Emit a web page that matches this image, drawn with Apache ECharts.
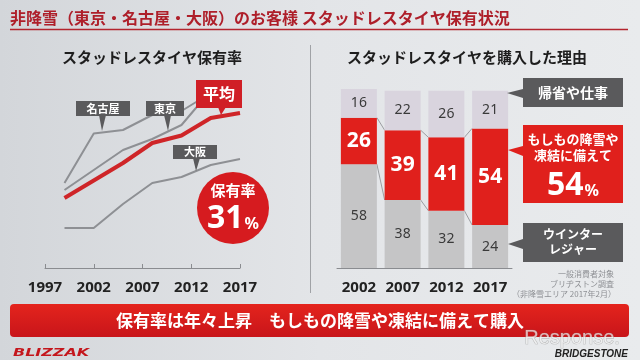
<!DOCTYPE html>
<html>
<head>
<meta charset="utf-8">
<script src="https://cdn.jsdelivr.net/npm/echarts@6/dist/echarts.min.js"></script>
<style>
html,body{margin:0;padding:0;width:640px;height:360px;overflow:hidden;}
#c{width:640px;height:360px;}
</style>
</head>
<body>
<div id="c"></div>
<script>
// ---- Data ----
const axisYears = ['1997','1998','1999','2000','2001','2002','2003','2004','2005','2006','2007','2008','2009','2010','2011','2012','2013','2014','2015','2016','2017'];
const lineYears = ['1999','2002','2005','2008','2011','2014','2017'];
const avgRate    = [14, 17.5, 21, 25, 26.5, 30, 31];
const tokyoRate  = [15.6, 19.6, 23.6, 25.8, 28.6, 35.5, 36];
const nagoyaRate = [17, 26.9, 27.6, 30.6, 31.4, 35, 36.5];
const osakaRate  = [8, 8, 12.8, 17, 18.2, 20.6, 21.8];

const barYears    = ['2002','2007','2012','2017'];
const leisure     = [58, 38, 32, 24];   // ウインターレジャー
const emergency   = [26, 39, 41, 54];   // もしもの降雪や凍結に備えて
const homecoming  = [16, 22, 26, 21];   // 帰省や仕事

// ---- Build ----
const JP = '"Noto Sans CJK JP", "Noto Sans", sans-serif';
const pairs = arr => lineYears.map((y, i) => [y, arr[i]]);
const BAR_W = 36;
const connData = [];
for (let i = 0; i < barYears.length - 1; i++) {
  connData.push([i, leisure[i], leisure[i+1], leisure[i] + emergency[i], leisure[i+1] + emergency[i+1]]);
}

const chart = echarts.init(document.getElementById('c'), null, {renderer: 'canvas'});

function box(x, y, w, h, fill) {
  return {type: 'rect', shape: {x: x, y: y, width: w, height: h}, style: {fill: fill}, z: 100};
}
function tri(pts, fill) {
  return {type: 'polygon', shape: {points: pts}, style: {fill: fill}, z: 100};
}
function txt(x, y, text, font, fill, align, extra) {
  return {type: 'text', x: x, y: y, z: 101,
    style: Object.assign({text: text, font: font, fill: fill, align: align || 'center', verticalAlign: 'middle'}, extra || {})};
}
const DARK = '#5a5a5c';

const graphics = [
  txt(10, 18, '非降雪（東京・名古屋・大阪）のお客様 スタッドレスタイヤ保有状況', 'bold 16px ' + JP, '#ae1f2a', 'left'),
  {type: 'line', shape: {x1: 10, y1: 29.5, x2: 628, y2: 29.5}, style: {stroke: '#b3242e', lineWidth: 1.5}, z: 50},
  {type: 'line', shape: {x1: 310.5, y1: 45, x2: 310.5, y2: 293}, style: {stroke: '#a0a2a6', lineWidth: 1}, z: 50},
  txt(152, 57, 'スタッドレスタイヤ保有率', 'bold 15px ' + JP, '#1e1e1e'),
  txt(467, 57, 'スタッドレスタイヤを購入した理由', 'bold 15px ' + JP, '#1e1e1e'),

  box(76, 101, 54, 15, DARK), tri([[99,115],[106,115],[102,131]], DARK),
  txt(103, 108.5, '名古屋', 'bold 11px ' + JP, '#ffffff'),
  box(146, 101, 38, 15, DARK), tri([[164,115],[171,115],[168,131]], DARK),
  txt(165, 108.5, '東京', 'bold 11px ' + JP, '#ffffff'),
  box(173, 145, 44, 14, DARK), tri([[193,158],[200,158],[196,171]], DARK),
  txt(195, 152, '大阪', 'bold 11px ' + JP, '#ffffff'),
  box(196, 80, 46, 28, '#d01f26'), tri([[218,107],[226,107],[221,115]], '#d01f26'),
  txt(219, 94, '平均', 'bold 16px ' + JP, '#ffffff'),
  {type: 'circle', shape: {cx: 233, cy: 208, r: 36}, style: {fill: '#d61b1f'}, z: 100},
  txt(233, 190, '保有率', 'bold 15px ' + JP, '#ffffff'),
  txt(233, 219, '{a|31}{b|%}', '', '#ffffff', 'center', {rich: {
    a: {font: 'bold 32px "Noto Sans", sans-serif', fill: '#ffffff'},
    b: {font: 'bold 16px "Noto Sans", sans-serif', fill: '#ffffff', padding: [10, 0, 0, 1]}}}),

  box(523, 78, 100, 29, DARK), tri([[523,89],[523,98],[507,93]], DARK),
  txt(573, 92.5, '帰省や仕事', 'bold 14px ' + JP, '#ffffff'),
  box(523, 125, 100, 78, '#e0201c'), tri([[523,146],[523,156],[508,150]], '#e0201c'),
  txt(573, 139.5, 'もしもの降雪や', 'bold 13px ' + JP, '#ffffff'),
  txt(573, 155.5, '凍結に備えて', 'bold 13px ' + JP, '#ffffff'),
  txt(573, 186, '{a|54}{b|%}', '', '#ffffff', 'center', {rich: {
    a: {font: 'bold 32px "Noto Sans", sans-serif', fill: '#ffffff'},
    b: {font: 'bold 16px "Noto Sans", sans-serif', fill: '#ffffff', padding: [10, 0, 0, 1]}}}),
  box(523, 223, 100, 39, DARK), tri([[523,239],[523,249],[508,244]], DARK),
  txt(573, 234.5, 'ウインター', 'bold 12px ' + JP, '#ffffff'),
  txt(573, 249, 'レジャー', 'bold 12px ' + JP, '#ffffff'),

  txt(614, 274, '一般消費者対象', '8px ' + JP, '#8e9094', 'right'),
  txt(614, 284, 'ブリヂストン調査', '8px ' + JP, '#8e9094', 'right'),
  txt(616, 294, '（非降雪エリア 2017年2月）', '8px ' + JP, '#8e9094', 'right'),

  {type: 'rect', shape: {x: 10, y: 304, width: 619, height: 33, r: 4}, z: 100,
    style: {fill: new echarts.graphic.LinearGradient(0, 0, 0, 1, [{offset: 0, color: '#e4241d'}, {offset: 1, color: '#c8151a'}])}},
  txt(320, 320.5, '保有率は年々上昇　もしもの降雪や凍結に備えて購入', 'bold 17px ' + JP, '#ffffff'),

  {type: 'text', x: 13, y: 353, z: 101, scaleX: 1.45,
    style: {text: 'BLIZZAK', font: 'italic 900 11px "DejaVu Sans", sans-serif', fill: '#c4161c', align: 'left', verticalAlign: 'middle'}},
  txt(628, 354, 'BRIDGESTONE', 'italic bold 10px "Liberation Sans", sans-serif', '#222222', 'right'),
  txt(572, 338, 'Response.', '20px "Liberation Sans", sans-serif', 'rgba(245,245,245,0.7)', 'center',
    {stroke: 'rgba(130,130,130,0.55)', lineWidth: 0.7})
];

const option = {
  animation: false,
  backgroundColor: new echarts.graphic.LinearGradient(0, 0, 1, 0, [
    {offset: 0, color: '#d3d6da'}, {offset: 0.5, color: '#e3e5e8'}, {offset: 1, color: '#e9ebed'}]),
  grid: [
    {left: 45, width: 195, top: 68, height: 200},
    {left: 337, width: 175, top: 89, height: 179}
  ],
  xAxis: [
    {gridIndex: 0, type: 'category', data: axisYears, boundaryGap: false,
      axisLine: {lineStyle: {color: '#8a8c90', width: 1}},
      axisTick: {show: true, inside: true, length: 4, interval: 4, lineStyle: {color: '#8a8c90'}},
      axisLabel: {interval: 4, margin: 12, color: '#222', fontSize: 15, fontWeight: 'bold', fontFamily: '"Noto Sans", sans-serif'}},
    {gridIndex: 1, type: 'category', data: barYears,
      axisLine: {lineStyle: {color: '#8a8c90', width: 1}},
      axisTick: {show: false},
      axisLabel: {interval: 0, margin: 12, color: '#222', fontSize: 15, fontWeight: 'bold', fontFamily: '"Noto Sans", sans-serif'}}
  ],
  yAxis: [
    {gridIndex: 0, type: 'value', min: 0, max: 40, show: false},
    {gridIndex: 1, type: 'value', min: 0, max: 100, show: false}
  ],
  series: [
    {name: '名古屋', type: 'line', xAxisIndex: 0, yAxisIndex: 0, data: pairs(nagoyaRate), symbol: 'none',
      lineStyle: {color: '#8e9094', width: 2}, z: 2},
    {name: '東京', type: 'line', xAxisIndex: 0, yAxisIndex: 0, data: pairs(tokyoRate), symbol: 'none',
      lineStyle: {color: '#8e9094', width: 2}, z: 2},
    {name: '大阪', type: 'line', xAxisIndex: 0, yAxisIndex: 0, data: pairs(osakaRate), symbol: 'none',
      lineStyle: {color: '#8e9094', width: 2}, z: 2},
    {name: '平均', type: 'line', xAxisIndex: 0, yAxisIndex: 0, data: pairs(avgRate), symbol: 'none',
      lineStyle: {color: '#cf2528', width: 4}, z: 3},

    {name: 'ウインターレジャー', type: 'bar', stack: 'r', xAxisIndex: 1, yAxisIndex: 1, data: leisure, barWidth: BAR_W,
      itemStyle: {color: '#c5c5c6'},
      label: {show: true, position: 'inside', color: '#3a3a3a', fontSize: 14, fontFamily: '"Noto Sans", sans-serif'}},
    {name: 'もしもの降雪や凍結に備えて', type: 'bar', stack: 'r', xAxisIndex: 1, yAxisIndex: 1, data: emergency, barWidth: BAR_W,
      itemStyle: {color: '#e0201c'},
      label: {show: true, position: 'inside', color: '#ffffff', fontSize: 21, fontWeight: 'bold', fontFamily: '"Noto Sans", sans-serif'}},
    {name: '帰省や仕事', type: 'bar', stack: 'r', xAxisIndex: 1, yAxisIndex: 1, data: homecoming, barWidth: BAR_W,
      itemStyle: {color: '#d9d4de'},
      label: {show: true, position: 'inside', color: '#3a3a3a', fontSize: 14, fontFamily: '"Noto Sans", sans-serif'}},
    {name: 'connectors', type: 'custom', xAxisIndex: 1, yAxisIndex: 1, data: connData, z: 1,
      encode: {x: 0, y: [1, 2, 3, 4]},
      renderItem: function (params, api) {
        const i = api.value(0);
        const half = BAR_W / 2;
        const a1 = api.coord([i, api.value(1)]), a2 = api.coord([i + 1, api.value(2)]);
        const b1 = api.coord([i, api.value(3)]), b2 = api.coord([i + 1, api.value(4)]);
        const st = {stroke: '#9c9ea2', lineWidth: 1};
        return {type: 'group', children: [
          {type: 'line', shape: {x1: a1[0] + half, y1: a1[1], x2: a2[0] - half, y2: a2[1]}, style: st},
          {type: 'line', shape: {x1: b1[0] + half, y1: b1[1], x2: b2[0] - half, y2: b2[1]}, style: st}
        ]};
      }}
  ],
  graphic: {elements: graphics}
};
chart.setOption(option);
</script>
</body>
</html>
